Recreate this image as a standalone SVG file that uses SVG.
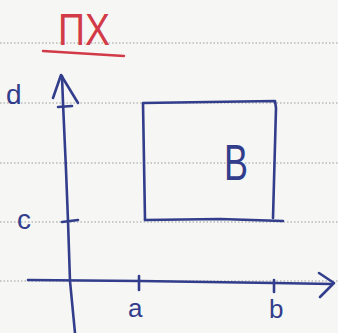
<svg xmlns="http://www.w3.org/2000/svg" width="338" height="333" viewBox="0 0 338 333">
<style>
.ink{fill:none;stroke:#323d8c;stroke-width:2.6;stroke-linecap:round;stroke-linejoin:round}
.lbl{font-family:"Liberation Sans","DejaVu Sans",sans-serif;fill:#323d8c}
.rule{stroke:#9a9a9a;stroke-width:1;stroke-dasharray:1.5 2}
</style>
<rect width="338" height="333" fill="#f6f6f4"/>
<g id="paper-lines">
<line class="rule" x1="0" y1="43" x2="338" y2="43"/>
<line class="rule" x1="0" y1="103" x2="338" y2="103"/>
<line class="rule" x1="0" y1="163" x2="338" y2="163"/>
<line class="rule" x1="0" y1="222" x2="338" y2="222"/>
<line class="rule" x1="0" y1="281" x2="338" y2="281"/>
</g>
<g id="title">
<text x="58" y="45" font-family="'Liberation Sans','DejaVu Sans',sans-serif" font-size="44" fill="#d23a48" transform="translate(58 45) scale(0.85 1) translate(-58 -45)">ΠΧ</text>
<path d="M43 51 L124 56" fill="none" stroke="#d23a48" stroke-width="2.4" stroke-linecap="round"/>
</g>
<g id="connectors">
<path id="y-axis" class="ink" d="M62 76 L63 103 L66 170 L68 221 L70 281 L75 333"/>
<path class="ink" d="M53 98 L61 75 L78 103"/>
<path id="x-axis" class="ink" d="M28 280 L140 281 L274 283 L332 284"/>
<path class="ink" d="M319 273 L334 283 L320 297"/>
<path class="ink" d="M139 276 L139 290"/>
<path class="ink" d="M274 280 L274 292"/>
<path class="ink" d="M58 107 L72 106"/>
<path class="ink" d="M62 222 L78 220"/>
</g>
<g id="region-B">
<path class="ink" d="M145 220 L143 103 L275 101 L276 108 L273 218"/>
<path class="ink" d="M145 220 L220 219 L283 221"/>
<text class="lbl" x="224" y="180" font-size="50" transform="translate(224 180) scale(0.72 1) translate(-224 -180)">B</text>
</g>
<g id="labels">
<text class="lbl" x="6" y="104" font-size="28">d</text>
<text class="lbl" x="17" y="229" font-size="28">c</text>
<text class="lbl" x="128" y="317" font-size="26">a</text>
<text class="lbl" x="269" y="318" font-size="26">b</text>
</g>
</svg>
